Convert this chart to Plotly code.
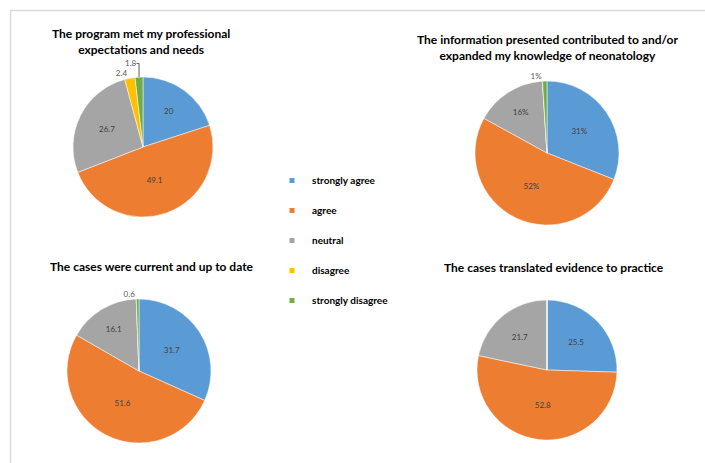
import plotly.graph_objects as go

W, H = 705, 463

categories = ["strongly agree", "agree", "neutral", "disagree", "strongly disagree"]
colors = ["#5B9BD5", "#ED7D31", "#A5A5A5", "#FFC000", "#70AD47"]

titles = [
    "The program met my professional<br>expectations and needs",
    "The information presented contributed to and/or<br>expanded my knowledge of neonatology",
    "The cases were current and up to date",
    "The cases translated evidence to practice",
]
values_program = [20, 49.1, 26.7, 2.4, 1.8]
values_information = [31, 52, 16, 0, 1]
values_current = [31.7, 51.6, 16.1, 0, 0.6]
values_translated = [25.5, 52.8, 21.7, 0, 0]
suffixes = ["", "%", "", ""]
all_values = [values_program, values_information, values_current, values_translated]

# pie boxes in pixels: (left, right, top, bottom)
boxes = [(73, 213, 77, 217), (475, 619, 81, 225), (67, 211, 299, 443), (477, 617, 300, 440)]
title_pos = [(141, 42), (547, 47), (152, 266), (554, 267)]


def fmt(v, suf):
    s = ("%g" % v)
    return s + suf


fig = go.Figure()
for vals, suf, (l, r, t, b) in zip(all_values, suffixes, boxes):
    texts = [fmt(v, suf) if v > 0 else "" for v in vals]
    pos = ["inside" if v >= 5 else "outside" for v in vals]
    fig.add_trace(go.Pie(
        labels=categories, values=vals, text=texts, textinfo="text",
        textposition=pos, sort=False, direction="clockwise", rotation=0,
        marker=dict(colors=colors, line=dict(color="white", width=0.5)),
        insidetextorientation="horizontal",
        textfont=dict(family="Lato", size=8, color="#404040"),
        outsidetextfont=dict(family="Lato", size=8, color="#595959"),
        domain=dict(x=[l / W, r / W], y=[1 - b / H, 1 - t / H]),
        showlegend=False, hoverinfo="label+value",
    ))

for i, (cat, col) in enumerate(zip(categories, colors)):
    fig.add_trace(go.Scatter(
        x=[None], y=[None], mode="markers", name=cat, legendgroup=cat,
        marker=dict(symbol="square", size=5, color=col), showlegend=True,
    ))

annotations = []
for txt, (x, y) in zip(titles, title_pos):
    annotations.append(dict(
        text="<b>" + txt + "</b>", x=x / W, y=1 - y / H, xref="paper", yref="paper",
        showarrow=False, xanchor="center", yanchor="middle",
        font=dict(family="Lato", size=12, color="#000000"),
    ))

shapes = [
    dict(type="line", xref="paper", yref="paper", x0=10 / W, x1=1, y0=1 - 10.5 / H, y1=1 - 10.5 / H,
         line=dict(color="#D9D9D9", width=1.5)),
    dict(type="line", xref="paper", yref="paper", x0=10.5 / W, x1=10.5 / W, y0=0, y1=1 - 10 / H,
         line=dict(color="#D9D9D9", width=1.5)),
]

fig.update_layout(
    width=W, height=H, margin=dict(l=0, r=0, t=0, b=0),
    paper_bgcolor="white", plot_bgcolor="white",
    xaxis=dict(visible=False), yaxis=dict(visible=False),
    annotations=annotations, shapes=shapes,
    legend=dict(x=272 / W, y=1 - 166 / H, xanchor="left", yanchor="top",
                font=dict(family="Lato", size=10, color="#000000", weight="bold"),
                tracegroupgap=11, itemwidth=30, bgcolor="rgba(0,0,0,0)"),
)

fig.write_html("out.html")
